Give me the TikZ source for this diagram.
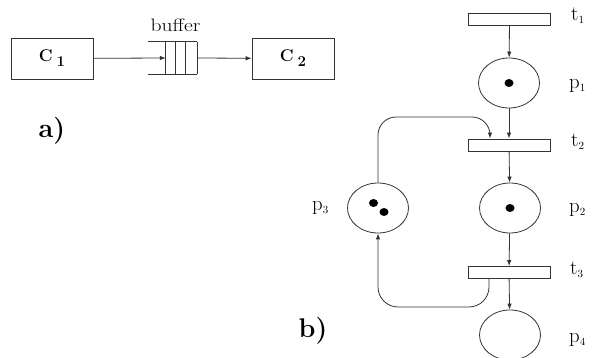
\documentclass[tikz,border=0pt]{standalone}
\usetikzlibrary{shapes.geometric,arrows.meta}
\begin{document}
\begin{tikzpicture}[x=1pt,y=-1pt,
  line/.style={draw=black!80, line width=0.8pt},
  arr/.style={line, -{Latex[length=6pt,width=4.5pt]}},
  box/.style={line, rectangle, minimum width=82pt, minimum height=41pt, inner sep=0pt, font=\bfseries\fontsize{17}{19}\selectfont},
  trans/.style={line, rectangle, minimum width=82pt, minimum height=12pt, inner sep=0pt},
  place/.style={line, ellipse, minimum width=61pt, minimum height=50pt, inner sep=0pt},
  lbl/.style={anchor=west, inner sep=0pt, font=\fontsize{22}{24}\selectfont},
  tok/.style={fill=black, ellipse, minimum width=9pt, minimum height=8pt, inner sep=0pt},
  tag/.style={inner sep=0pt, font=\bfseries\fontsize{27}{29}\selectfont},
]
\useasboundingbox (0,0) rectangle (595,358);
\fill[white] (0,0) rectangle (595,358);

% part a
\node[box] (c1) at (52,58.5) {\raisebox{1pt}{C\hspace{4pt}\raisebox{-5pt}{\fontsize{15}{16}\selectfont 1}}};
\node[box] (c2) at (293,58.5) {\raisebox{1pt}{C\hspace{4pt}\raisebox{-5pt}{\fontsize{15}{16}\selectfont 2}}};
\node[rectangle, minimum width=31pt, minimum height=32pt, inner sep=0pt] (buf) at (181.5,58) {};
\draw[line] (buf.north east) -- ++(-49,0);
\draw[line] (buf.south east) -- ++(-49,0);
\draw[line] (buf.north west) -- (buf.south west);
\draw[line] ([xshift=10pt]buf.north west) -- ([xshift=10pt]buf.south west);
\draw[line] ([xshift=20pt]buf.north west) -- ([xshift=20pt]buf.south west);
\draw[line] (buf.north east) -- (buf.south east);
\node[inner sep=0pt, font=\fontsize{18}{20}\selectfont] (buflbl) at (175.5,25) {\scalebox{1.2}[1]{buffer}};
\draw[arr] (c1) -- (buf.west);
\draw[arr] (buf.east) -- (c2);
\node[tag] (ta) at (52,131) {a)};

% part b
\node[trans] (t1) at (509.5,19) {};
\node[place] (p1) at (509,83) {};
\node[trans] (t2) at (509,145) {};
\node[place] (p2) at (510,208) {};
\node[place] (p3) at (378,208) {};
\node[trans] (t3) at (509,272.5) {};
\node[place] (p4) at (510,335) {};

\node[tok] (k1) at (p1) {};
\node[tok] (k2) at (p2) {};
\node[tok] (k3) at (373.5,203) {};
\node[tok] (k4) at (384,212) {};

\node[lbl] (lt1) at (571,16) {$\mathrm{t}_{\scriptscriptstyle 1}$};
\node[lbl] (lp1) at (569,86) {$\mathrm{p}_{\scriptscriptstyle 1}$};
\node[lbl] (lt2) at (571,142) {$\mathrm{t}_{\scriptscriptstyle 2}$};
\node[lbl] (lp2) at (569,210) {$\mathrm{p}_{\scriptscriptstyle 2}$};
\node[lbl] (lt3) at (570,270) {$\mathrm{t}_{\scriptscriptstyle 3}$};
\node[lbl] (lp4) at (569,340) {$\mathrm{p}_{\scriptscriptstyle 4}$};
\node[lbl] (lp3) at (312,208) {$\mathrm{p}_{\scriptscriptstyle 3}$};

\draw[arr] (t1) -- (p1);
\draw[arr] (p1) -- (t2);
\draw[arr] (t2) -- (p2);
\draw[arr] (p2) -- (t3);
\draw[arr] (t3) -- (p4);
\draw[arr, rounded corners=18pt] (p3.north) -- (378,117) -- ([xshift=-19pt]t2.north |- 0,117) -- ([xshift=-19pt]t2.north);
\draw[arr, rounded corners=20pt] ([xshift=-20pt]t3.south) -- ([xshift=-20pt]t3.south |- 0,307) -- (378,307) -- (p3.south);

\node[tag] (tb) at (313,331) {b)};
\end{tikzpicture}
\end{document}
